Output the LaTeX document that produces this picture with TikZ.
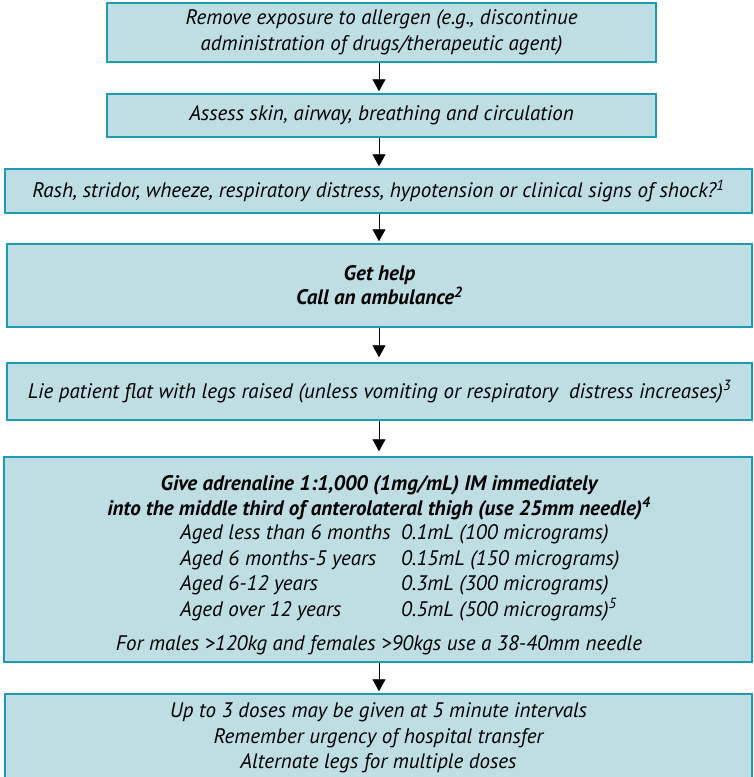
\documentclass[tikz,border=0pt]{standalone}
\usepackage{fontspec}
\setmainfont{PT Sans}
\usetikzlibrary{arrows.meta}
\definecolor{boxfill}{RGB}{190,222,228}
\definecolor{boxline}{RGB}{30,155,176}
\begin{document}
\begin{tikzpicture}[x=1pt,y=-1pt,
		stepbox/.style={draw=boxline,line width=1.5pt,fill=boxfill,inner sep=0pt,align=center},
		txt/.style={inner sep=0pt,align=center,font=\fontsize{21}{25.5}\selectfont\itshape},
		arr/.style={-{Triangle[length=12pt,width=13pt]},line width=0.8pt,shorten >=2pt}]
		\useasboundingbox (0,0) rectangle (753,777);
		\coordinate (ax) at (379,0);
		%boxes
		\node[stepbox,txt,minimum width=549,minimum height=59] (remove) at (381.5,32.5)
			{Remove exposure to allergen (e.g., discontinue\\administration of drugs/therapeutic agent)};
		\node[stepbox,txt,minimum width=549,minimum height=43] (assess) at (381.5,115.5)
			{Assess skin, airway, breathing and circulation};
		\node[stepbox,txt,minimum width=747,minimum height=44] (signs) at (378.5,191)
			{Rash, stridor, wheeze, respiratory distress, hypotension or clinical signs of shock?\textsuperscript{1}};
		\node[stepbox,txt,minimum width=745,minimum height=83,font=\fontsize{21}{24}\selectfont\bfseries\itshape] (help) at (379.5,285.5)
			{Get help\\Call an ambulance\textsuperscript{2}};
		\node[stepbox,txt,minimum width=745,minimum height=57] (flat) at (379.5,391.5)
			{Lie patient flat with legs raised (unless vomiting or respiratory\ \ distress increases)\textsuperscript{3}};
		\node[stepbox,minimum width=748,minimum height=205] (adren) at (378,559.5) {};
		\node[stepbox,txt,minimum width=747,minimum height=88] (repeat) at (378.5,738)
			{Up to 3 doses may be given at 5 minute intervals\\Remember urgency of hospital transfer\\Alternate legs for multiple doses};
		%adrenaline box text
		\node[txt,font=\fontsize{21}{25}\selectfont\bfseries\itshape] (dose) at (379,497.5)
			{Give adrenaline 1:1,000 (1mg/mL) IM immediately\\into the middle third of anterolateral thigh (use 25mm needle)\textsuperscript{4}};
		\node[txt,anchor=west] (ages) at (180,573)
			{\begin{tabular}{@{}p{221pt}@{}l@{}}
				Aged less than 6 months & 0.1mL (100 micrograms)\\
				Aged 6 months-5 years & 0.15mL (150 micrograms)\\
				Aged 6-12 years & 0.3mL (300 micrograms)\\
				Aged over 12 years & 0.5mL (500 micrograms)\textsuperscript{5}
			\end{tabular}};
		\node[txt] (needle) at (379,645) {For males >120kg and females >90kgs use a 38-40mm needle};
		%arrows
		\draw[arr] (remove.south -| ax) -- (assess.north -| ax);
		\draw[arr] (assess.south -| ax) -- (signs.north -| ax);
		\draw[arr] (signs.south -| ax) -- (help.north -| ax);
		\draw[arr,shorten >=5pt] (help.south -| ax) -- (flat.north -| ax);
		\draw[arr,shorten >=5pt] (flat.south -| ax) -- (adren.north -| ax);
		\draw[arr] (adren.south -| ax) -- (repeat.north -| ax);
\end{tikzpicture}
\end{document}
